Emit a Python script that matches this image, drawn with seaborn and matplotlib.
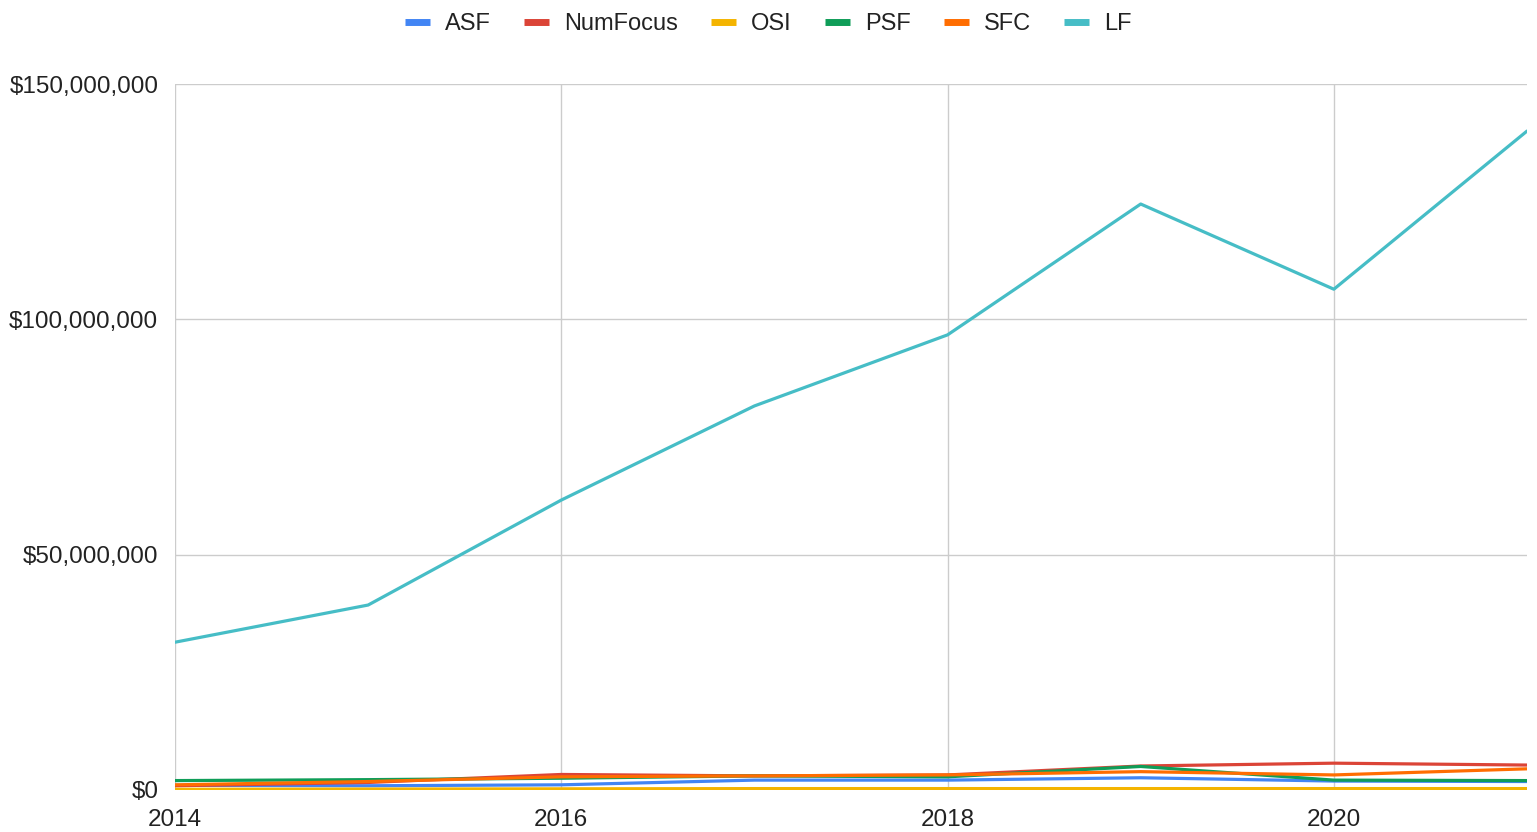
import numpy as np
import pandas as pd
import seaborn as sns
import matplotlib.pyplot as plt
from matplotlib.ticker import FuncFormatter

# yearly revenue per foundation (USD)
years = [2014, 2015, 2016, 2017, 2018, 2019, 2020, 2021]
asf = [1.0e6, 0.9e6, 1.1e6, 2.1e6, 2.1e6, 2.6e6, 1.9e6, 1.8e6]
numfocus = [0.9e6, 1.6e6, 3.3e6, 3.0e6, 3.2e6, 5.1e6, 5.7e6, 5.3e6]
osi = [0.15e6, 0.2e6, 0.25e6, 0.3e6, 0.3e6, 0.3e6, 0.3e6, 0.3e6]
psf = [2.0e6, 2.2e6, 2.5e6, 3.0e6, 2.8e6, 5.0e6, 2.1e6, 2.0e6]
sfc = [1.1e6, 1.8e6, 2.8e6, 3.0e6, 3.2e6, 3.9e6, 3.2e6, 4.5e6]
lf = [31.4e6, 39.3e6, 61.6e6, 81.6e6, 96.7e6, 124.5e6, 106.4e6, 140.0e6]

names = ["ASF", "NumFocus", "OSI", "PSF", "SFC", "LF"]
series = [asf, numfocus, osi, psf, sfc, lf]
colors = ["#4285F4", "#DB4437", "#F4B400", "#0F9D58", "#FF6D01", "#46BDC6"]

df = pd.DataFrame({
    "year": np.tile(years, len(names)),
    "value": np.concatenate(series),
    "org": np.repeat(names, len(years)),
})

sns.set_style("white")
plt.rcParams['font.family'] = ['Liberation Sans', 'DejaVu Sans']

fig = plt.figure(figsize=(15.37, 8.32), dpi=100)
ax = fig.add_axes([175 / 1537, 1 - 790 / 832, (1527 - 175) / 1537, (790 - 84) / 832])

sns.lineplot(data=df, x="year", y="value", hue="org", hue_order=names,
             palette=colors, linewidth=2.3, ax=ax)

ax.set_xlim(2014, 2021)
ax.set_ylim(0, 150e6)
ax.set_xticks([2014, 2016, 2018, 2020])
ax.set_yticks([0, 50e6, 100e6, 150e6])
ax.yaxis.set_major_formatter(FuncFormatter(lambda v, _: f"${int(v):,}"))
ax.grid(True, color="#cccccc", linewidth=1)
ax.set_axisbelow(True)
for s in ax.spines.values():
    s.set_visible(False)
ax.tick_params(axis="both", length=0, labelsize=17.5, colors="#222222")
ax.tick_params(axis="x", pad=14)
ax.tick_params(axis="y", pad=12)
ax.set_xlabel("")
ax.set_ylabel("")

handles, labels = ax.get_legend_handles_labels()
ax.legend_.remove()
for h in handles:
    h.set_linewidth(5)
    h.set_solid_capstyle("butt")
fig.legend(handles, labels, loc="center", bbox_to_anchor=(0.5, 1 - 24 / 832),
           ncol=6, frameon=False, fontsize=17, handlelength=1.05,
           handletextpad=0.65, columnspacing=1.4, labelcolor="#222222")

fig.savefig("out.png", dpi=100)
